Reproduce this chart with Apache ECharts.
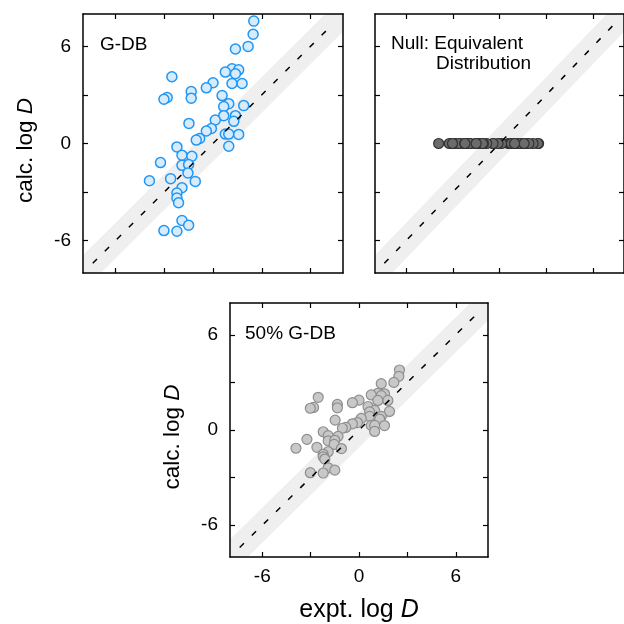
<!DOCTYPE html>
<html>
<head>
<meta charset="utf-8">
<script src="https://cdn.jsdelivr.net/npm/echarts@6/dist/echarts.min.js"></script>
<style>
html,body{margin:0;padding:0;background:#fff;}
#chart{width:624px;height:624px;}
</style>
</head>
<body>
<div id="chart"></div>
<script>
// ---- data ----
const exptLogD = [2.51, 2.47, 2.16, 1.38, -2.53, 1.17, 0.76, 1.58, 1.38, 1.17, 1.79, 0.00, -0.41, -1.34, -1.34, -2.82, -3.02, 0.56, 0.97, 0.66, 1.89, 1.38, 0.66, 1.28, 0.14, -1.48, -0.10, -0.41, 0.76, 0.97, 1.58, -0.82, -1.03, 0.97, -2.22, -1.91, -1.30, -3.23, -1.91, -1.50, -1.54, -2.61, -1.09, -3.91, -1.91, -2.22, -2.22, -2.12, -1.91, -1.50, -3.02, -2.22];
const calcGDB = [7.56, 6.75, 6.00, 5.84, 4.12, 4.62, 4.41, 4.55, 4.31, 3.71, 3.71, 3.75, 3.44, 3.21, 2.80, 2.84, 2.73, 2.96, 2.46, 2.28, 2.34, 1.72, 1.72, 1.37, 1.45, 1.24, 0.93, 0.77, 0.58, 0.58, 0.56, 0.31, 0.21, -0.17, -0.21, -0.72, -0.79, -1.18, -1.35, -1.30, -1.82, -2.17, -2.34, -2.30, -2.73, -3.06, -3.37, -3.66, -4.76, -5.05, -5.38, -5.42];
const calcNull = [0, 0, 0, 0, 0, 0, 0, 0, 0, 0, 0, 0, 0, 0, 0, 0, 0, 0, 0, 0, 0, 0, 0, 0, 0, 0, 0, 0, 0, 0, 0, 0, 0, 0, 0, 0, 0, 0, 0, 0, 0, 0, 0, 0, 0, 0, 0, 0, 0, 0, 0, 0];
const calc50GDB = [3.78, 3.38, 3.00, 2.92, 2.06, 2.31, 2.21, 2.28, 2.16, 1.86, 1.86, 1.88, 1.72, 1.61, 1.40, 1.42, 1.37, 1.48, 1.23, 1.14, 1.17, 0.86, 0.86, 0.69, 0.73, 0.62, 0.47, 0.39, 0.29, 0.29, 0.28, 0.16, 0.11, -0.09, -0.11, -0.36, -0.40, -0.59, -0.68, -0.65, -0.91, -1.09, -1.17, -1.15, -1.37, -1.53, -1.69, -1.83, -2.38, -2.53, -2.69, -2.71];
const axisRange = [-8, 8];
const tickValues = [-6, -3, 0, 3, 6];
const tickLabels = [-6, 0, 6];
const identityLine = [-7.4, 7.4];
const bandHalfWidth = 1.1;
const panelTitles = ['G-DB', 'Null: Equivalent', 'Distribution', '50% G-DB'];

// ---- build ----
const FONT = 'Liberation Sans, Arial, Helvetica, sans-serif';
const lo = axisRange[0], hi = axisRange[1], w = bandHalfWidth;
const bandPoly = [[lo, lo], [lo, lo + w], [hi - w, hi], [hi, hi], [hi, hi - w], [lo + w, lo]];

const grids = [
  {left: 83, top: 14, width: 260, height: 259},
  {left: 375, top: 14, width: 260, height: 259},
  {left: 230, top: 303, width: 258, height: 259}
];
const panels = [
  {ys: calcGDB, fill: '#d6ebfc', stroke: '#2196f3', bw: 1.5, yLabel: true, xLabel: false},
  {ys: calcNull, fill: '#6b6b6b', stroke: '#333333', bw: 1.2, yLabel: false, xLabel: false},
  {ys: calc50GDB, fill: '#c8c8c8', stroke: '#8e8e8e', bw: 1.2, yLabel: true, xLabel: true}
];

function rich(size) {
  return {
    n: {fontSize: size, fontFamily: FONT, color: '#000'},
    i: {fontSize: size, fontFamily: FONT, fontStyle: 'italic', color: '#000'}
  };
}

function axisBase(gridIndex, position, showLabel) {
  return {
    type: 'value', gridIndex, position, min: lo, max: hi, z: 10,
    axisLine: {show: true, onZero: false, lineStyle: {color: '#000', width: 1.5}},
    axisTick: {show: true, inside: true, length: 5, customValues: tickValues, lineStyle: {color: '#000', width: 1.2}},
    axisLabel: {show: showLabel, customValues: tickLabels, fontSize: 19, fontFamily: FONT, color: '#000', margin: 10},
    splitLine: {show: false}
  };
}

const xAxis = [], yAxis = [], series = [];
panels.forEach((p, i) => {
  const bx = axisBase(i, 'bottom', p.xLabel);
  if (p.xLabel) {
    bx.name = '{n|expt. log }{i|D}';
    bx.nameLocation = 'middle';
    bx.nameGap = 41;
    bx.nameTextStyle = {rich: rich(25)};
  }
  xAxis.push(bx);
  xAxis.push(axisBase(i, 'top', false));
  const ly = axisBase(i, 'left', p.yLabel);
  if (p.yLabel) {
    ly.axisLabel.margin = 12;
    ly.name = '{n|calc. log }{i|D}';
    ly.nameLocation = 'middle';
    ly.nameRotate = 90;
    ly.nameGap = 46;
    ly.nameTextStyle = {rich: rich(22.5), padding: [0, 14, 0, 0]};
  }
  yAxis.push(ly);
  yAxis.push(axisBase(i, 'right', false));

  const xi = i * 2, yi = i * 2;
  series.push({
    type: 'custom', xAxisIndex: xi, yAxisIndex: yi, z: 1, silent: true,
    data: [[0, 0]],
    renderItem: (params, api) => ({
      type: 'polygon',
      shape: {points: bandPoly.map(pt => api.coord(pt))},
      style: {fill: '#efefef'}
    })
  });
  series.push({
    type: 'scatter', xAxisIndex: xi, yAxisIndex: yi, z: 3,
    symbol: 'circle', symbolSize: 10,
    itemStyle: {color: p.fill, borderColor: p.stroke, borderWidth: p.bw, opacity: 1},
    data: exptLogD.map((x, k) => [x, p.ys[k]])
  });
  series.push({
    type: 'line', xAxisIndex: xi, yAxisIndex: yi, z: 4,
    symbol: 'none', silent: true,
    lineStyle: {color: '#000', width: 1.5, type: [6, 11]},
    data: [[identityLine[0], identityLine[0]], [identityLine[1], identityLine[1]]]
  });
});

const titleStyle = {fontSize: 19, fontWeight: 'normal', fontFamily: FONT, color: '#000'};
const title = [
  {text: panelTitles[0], left: 100, top: 35, padding: 0, textStyle: titleStyle},
  {text: panelTitles[1], left: 391, top: 34, padding: 0, textStyle: titleStyle},
  {text: panelTitles[2], left: 436, top: 54, padding: 0, textStyle: titleStyle},
  {text: panelTitles[3], left: 245, top: 324, padding: 0, textStyle: titleStyle}
];

const chart = echarts.init(document.getElementById('chart'), null, {renderer: 'canvas'});
chart.setOption({
  animation: false,
  backgroundColor: '#fff',
  title,
  grid: grids,
  xAxis, yAxis, series
});
</script>
</body>
</html>
